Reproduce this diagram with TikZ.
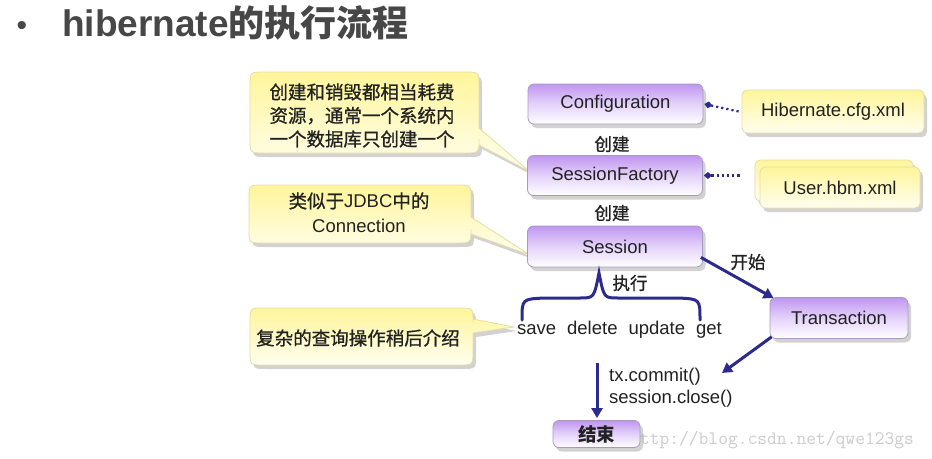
\documentclass[tikz,border=0pt]{standalone}
\usepackage{fontspec}
\setmainfont{Liberation Sans}
\newfontfamily\cjk{Noto Sans CJK SC}
\newfontfamily\cjkm[FakeBold=0.9]{Noto Sans CJK SC}
\usetikzlibrary{arrows.meta,shadows}
\definecolor{navy}{HTML}{2D2A8E}
\definecolor{purpTop}{HTML}{C096F0}
\definecolor{purpMid}{HTML}{E4D2FA}
\definecolor{purpEdge}{HTML}{A99BC0}
\definecolor{yelTop}{HTML}{FFF59A}
\definecolor{yelBot}{HTML}{FFFEF0}
\definecolor{yelEdge}{HTML}{E6DCA8}
\definecolor{txt}{HTML}{222222}
\newcommand\mycallout[8]{%
  \path[callout] ({#1+14},#2) -- ({#3-14},#2) .. controls (#3,#2) .. (#3,{#2+14})
    -- (#3,#5) -- (#7,#8) -- (#3,#6) -- (#3,{#4-14}) .. controls (#3,#4) .. ({#3-14},#4)
    -- ({#1+14},#4) .. controls (#1,#4) .. (#1,{#4-14}) -- (#1,{#2+14})
    .. controls (#1,#2) .. ({#1+14},#2) -- cycle;}
\begin{document}
\begin{tikzpicture}[x=1pt,y=-1pt,
  shad/.style={drop shadow={opacity=0.35,shadow xshift=3pt,shadow yshift=-4pt}},
  pbox/.style={shad,rectangle,rounded corners=6pt,draw=purpEdge,line width=0.8pt,
    top color=purpTop,bottom color=white,middle color=purpMid,
    minimum width=175pt,minimum height=40pt,inner sep=0pt,text=txt,
    font=\fontsize{18.5}{20}\selectfont},
  ybox/.style={shad,rectangle,rounded corners=5pt,draw=yelEdge,line width=0.8pt,
    top color=yelTop,bottom color=yelBot,
    minimum width=182pt,minimum height=43pt,inner sep=0pt,text=txt,
    font=\fontsize{18.5}{20}\selectfont},
  callout/.style={shad,draw=yelEdge,line width=0.8pt,top color=yelTop,bottom color=yelBot},
  ctext/.style={text=txt,align=left,inner sep=0pt,font=\cjkm\fontsize{18.5}{23.5}\selectfont},
  lbl/.style={text=txt,inner sep=0pt,font=\cjkm\fontsize{17.5}{20}\selectfont},
  plain/.style={text=txt,inner sep=0pt,font=\fontsize{18.5}{22}\selectfont},
  arr/.style={draw=navy,line width=3pt,-{Triangle[length=10pt,width=11pt]}},
  dotc/.style={draw=navy,line width=2.2pt,dash pattern=on 2.2pt off 3pt,
    -{Diamond[length=8pt,width=7pt]}}
]
\useasboundingbox[fill=white] (0,0) rectangle (932,458);

% title
\node[text=black!72,inner sep=0pt,font=\fontsize{30}{30}\selectfont] (bul) at (22,28) {•};
\node[anchor=base west,inner sep=0pt,text=black!72,font=\bfseries\fontsize{37}{40}\selectfont]
  (title) at (62,36) {hibernate{\cjk\bfseries\fontsize{36}{40}\selectfont 的执行流程}};

% watermark
\node[anchor=base west,inner sep=0pt,text=black!20,font=\ttfamily\fontsize{19}{19}\selectfont]
  (wm) at (630,444) {http://blog.csdn.net/qwe123gs};

% callouts
\mycallout{250}{72}{479}{153}{128}{145}{529}{171}
\node[ctext] (t1) at (362,115.5) {创建和销毁都相当耗费\\资源，通常一个系统内\\一个数据库只创建一个};
\mycallout{249}{185}{471}{243}{217}{234}{530}{255}
\node[ctext,align=center,font=\fontsize{18.5}{24.5}\selectfont] (t2) at (359,212.5)
  {{\cjkm 类似于}JDBC{\cjkm 中的}\\Connection};
\mycallout{250}{308}{473}{365}{319}{333}{514}{327}
\node[ctext] (t3) at (358,338) {复杂的查询操作稍后介绍};

% purple boxes
\node[pbox] (conf) at (615.5,104) {Configuration};
\node[pbox] (sf) at (615,175.5) {SessionFactory};
\node[pbox,minimum height=41pt] (sess) at (615,246.5) {Session};
\node[pbox,minimum width=138pt,minimum height=41pt] (trans) at (839,318) {Transaction};
\node[pbox,minimum width=87pt,minimum height=27pt,font=\cjk\bfseries\fontsize{18.5}{20}\selectfont] (end) at (596.5,434) {结束};

% yellow boxes
\node[ybox] (hib) at (833,111.5) {Hibernate.cfg.xml};
\node[ybox,minimum width=158pt,minimum height=41pt] (userback) at (834,180.5) {};
\node[ybox,minimum width=160pt,minimum height=41pt] (user) at (840,187.5) {User.hbm.xml};

% dotted connectors
\draw[dotc] ([xshift=-3pt]hib.west) -- ([xshift=1pt]conf.east);
\draw[dotc] ([xshift=-20pt]user.west |- sf.east) -- ([xshift=1pt]sf.east);

% labels
\node[lbl] (cj1) at (612,144) {创建};
\node[lbl] (cj2) at (612,213) {创建};
\node[lbl] (ks) at (748,262) {开始};
\node[lbl] (zx) at (630,283) {执行};

% operations
\node[plain] (ops) at (619.5,330) {save\hspace{11pt}delete\hspace{11pt}update\hspace{11pt}get};
\draw[navy,line width=3pt,line cap=round]
  (522,320) .. controls (522,299) .. (545,298) -- (580,298)
  .. controls (594,298) .. (599,273)
  .. controls (604,298) .. (618,298) -- (678,298)
  .. controls (700,299) .. (700,320);

% commit text
\node[plain,anchor=west,align=left] (tx) at (609,388) {tx.commit()\\session.close()};
\coordinate (cm) at (722,373);
\coordinate (dn) at (597,363);

% arrows
\draw[arr] ([xshift=-2pt,yshift=10pt]sess.south east) -- ([xshift=4pt,yshift=-1pt]trans.north west);
\draw[arr] ([xshift=2pt,yshift=2pt]trans.south west) -- (cm);
\draw[arr] (dn) -- ([xshift=0.5pt,yshift=2pt]end.north);
\end{tikzpicture}
\end{document}
